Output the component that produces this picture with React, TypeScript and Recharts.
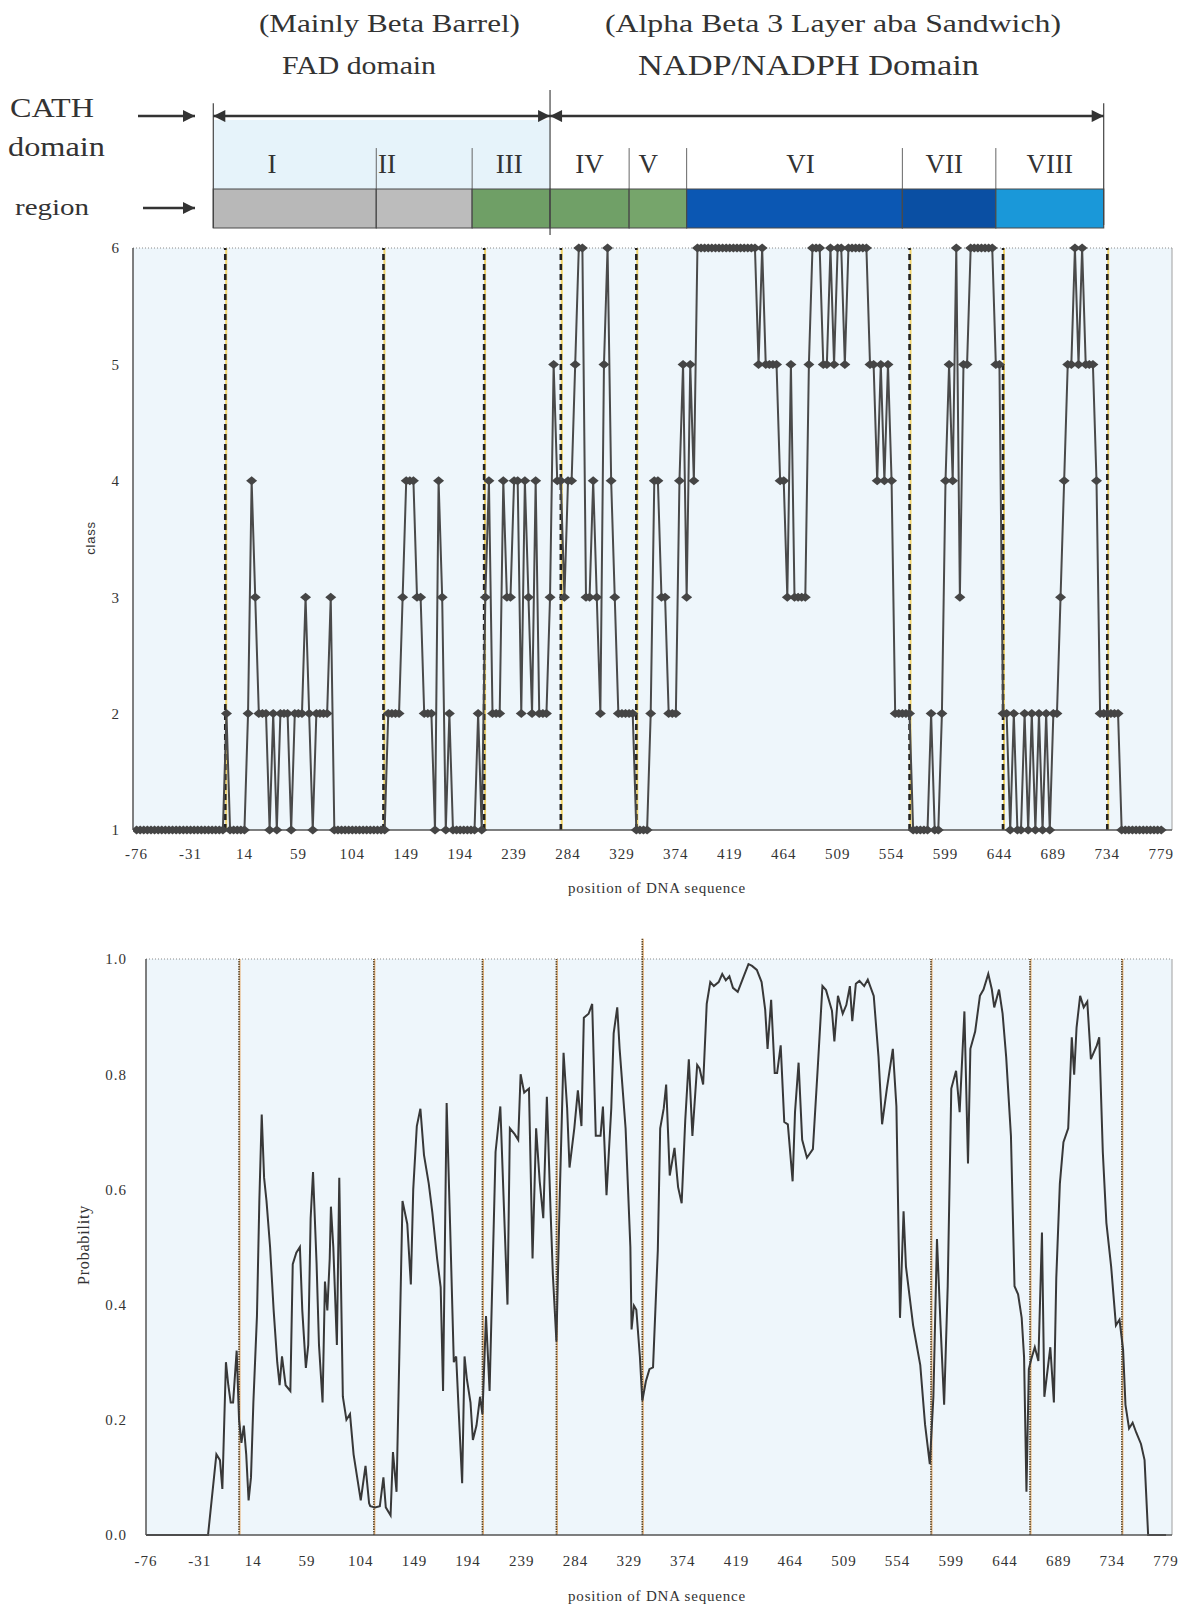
import React from 'react';
import { LineChart, Line, XAxis, YAxis, CartesianGrid, ReferenceLine, ReferenceArea, ComposedChart, Scatter } from 'recharts';

// position axis (nucleotide position, one point every codon)
const xTicks = [-76, -31, 14, 59, 104, 149, 194, 239, 284, 329, 374, 419, 464, 509, 554, 599, 644, 689, 734, 779];
const classTicks = [1, 2, 3, 4, 5, 6];
const probTicks = [0, 0.2, 0.4, 0.6, 0.8, 1.0];

// structural class per codon, starting at -76, step 3
const classValues = [
  1, 1, 1, 1, 1, 1, 1, 1, 1, 1, 1, 1, 1, 1, 1,
  1, 1, 1, 1, 1, 1, 1, 1, 1, 1, 2, 1, 1, 1, 1,
  1, 2, 4, 3, 2, 2, 2, 1, 2, 1, 2, 2, 2, 1, 2,
  2, 2, 3, 2, 1, 2, 2, 2, 2, 3, 1, 1, 1, 1, 1,
  1, 1, 1, 1, 1, 1, 1, 1, 1, 1, 2, 2, 2, 2, 3,
  4, 4, 4, 3, 3, 2, 2, 2, 1, 4, 3, 1, 2, 1, 1,
  1, 1, 1, 1, 1, 2, 1, 3, 4, 2, 2, 2, 4, 3, 3,
  4, 4, 2, 4, 3, 2, 4, 2, 2, 2, 3, 5, 4, 4, 3,
  4, 4, 5, 6, 6, 3, 3, 4, 3, 2, 5, 6, 4, 3, 2,
  2, 2, 2, 2, 1, 1, 1, 1, 2, 4, 4, 3, 3, 2, 2,
  2, 4, 5, 3, 5, 4, 6, 6, 6, 6, 6, 6, 6, 6, 6,
  6, 6, 6, 6, 6, 6, 6, 6, 5, 6, 5, 5, 5, 5, 4,
  4, 3, 5, 3, 3, 3, 3, 5, 6, 6, 6, 5, 5, 6, 5,
  6, 6, 5, 6, 6, 6, 6, 6, 6, 5, 5, 4, 5, 4, 5,
  4, 2, 2, 2, 2, 2, 1, 1, 1, 1, 1, 2, 1, 1, 2,
  4, 5, 4, 6, 3, 5, 5, 6, 6, 6, 6, 6, 6, 6, 5,
  5, 2, 2, 1, 2, 1, 1, 2, 1, 2, 1, 2, 1, 2, 1,
  2, 2, 3, 4, 5, 5, 6, 5, 6, 5, 5, 5, 4, 2, 2,
  2, 2, 2, 2, 1, 1, 1, 1, 1, 1, 1, 1, 1, 1, 1,
  1,
];

// [position, probability]
const probability: [number, number][] = [
  [-76, 0], [-24, 0], [-19, 0.1], [-17, 0.14], [-14, 0.13], [-12, 0.08], [-9, 0.3], [-7, 0.26], [-5, 0.23], [-3, 0.23],
  [0, 0.32], [2, 0.2], [4, 0.16], [6, 0.19], [8, 0.14], [10, 0.06], [12, 0.1], [14, 0.23], [17, 0.38], [19, 0.58],
  [21, 0.73], [23, 0.62], [25, 0.58], [28, 0.5], [31, 0.39], [34, 0.3], [36, 0.26], [38, 0.31], [41, 0.26], [45, 0.25],
  [47, 0.47], [50, 0.49], [53, 0.5], [55, 0.39], [58, 0.29], [60, 0.33], [62, 0.55], [64, 0.63], [67, 0.47], [69, 0.33],
  [72, 0.23], [74, 0.44], [76, 0.39], [78, 0.48], [79, 0.57], [81, 0.5], [84, 0.33], [86, 0.62], [89, 0.24], [92, 0.2],
  [95, 0.21], [98, 0.14], [101, 0.1], [104, 0.06], [106, 0.09], [108, 0.12], [111, 0.055], [112, 0.05], [116, 0.048], [120, 0.05],
  [123, 0.1], [125, 0.048], [129, 0.034], [131, 0.144], [134, 0.075], [139, 0.58], [143, 0.54], [146, 0.435], [148, 0.6], [151, 0.71],
  [154, 0.74], [157, 0.66], [161, 0.61], [164, 0.56], [168, 0.48], [171, 0.43], [173, 0.25], [176, 0.75], [179, 0.53], [182, 0.3],
  [184, 0.31], [186, 0.22], [189, 0.09], [191, 0.31], [193, 0.27], [196, 0.23], [198, 0.165], [201, 0.19], [204, 0.24], [206, 0.21],
  [209, 0.38], [212, 0.25], [217, 0.665], [221, 0.744], [224, 0.57], [227, 0.4], [229, 0.706], [233, 0.696], [236, 0.686], [238, 0.8],
  [241, 0.768], [245, 0.775], [248, 0.48], [251, 0.706], [254, 0.614], [257, 0.55], [260, 0.761], [263, 0.569], [265, 0.453], [268, 0.336],
  [271, 0.604], [274, 0.837], [277, 0.741], [279, 0.638], [283, 0.706], [286, 0.772], [289, 0.71], [291, 0.898], [295, 0.905], [298, 0.922],
  [301, 0.693], [305, 0.693], [307, 0.744], [310, 0.59], [314, 0.741], [316, 0.871], [319, 0.916], [321, 0.844], [326, 0.706], [330, 0.5],
  [331, 0.357], [333, 0.398], [335, 0.391], [338, 0.309], [340, 0.233], [343, 0.267], [346, 0.288], [349, 0.291], [353, 0.494], [355, 0.706],
  [358, 0.741], [360, 0.782], [363, 0.624], [367, 0.672], [370, 0.604], [373, 0.576], [376, 0.72], [379, 0.826], [382, 0.693], [386, 0.816],
  [388, 0.81], [391, 0.782], [394, 0.922], [397, 0.96], [400, 0.953], [404, 0.96], [407, 0.974], [410, 0.963], [413, 0.97], [416, 0.95],
  [420, 0.943], [425, 0.97], [429, 0.991], [432, 0.988], [436, 0.981], [440, 0.96], [443, 0.912], [445, 0.844], [448, 0.929], [451, 0.802],
  [453, 0.802], [456, 0.85], [459, 0.717], [462, 0.713], [466, 0.614], [468, 0.734], [471, 0.82], [474, 0.686], [478, 0.655], [483, 0.67],
  [487, 0.809], [491, 0.953], [494, 0.946], [499, 0.91], [501, 0.857], [504, 0.936], [508, 0.905], [511, 0.92], [514, 0.953], [516, 0.892],
  [519, 0.957], [522, 0.962], [526, 0.953], [529, 0.964], [534, 0.936], [538, 0.83], [541, 0.713], [545, 0.775], [550, 0.844], [553, 0.744],
  [556, 0.377], [559, 0.562], [561, 0.466], [567, 0.364], [573, 0.295], [577, 0.192], [581, 0.123], [584, 0.24], [587, 0.514], [590, 0.364],
  [593, 0.226], [596, 0.432], [599, 0.775], [603, 0.806], [606, 0.734], [610, 0.909], [613, 0.645], [615, 0.844], [619, 0.874], [623, 0.936],
  [626, 0.947], [630, 0.974], [633, 0.947], [635, 0.916], [639, 0.947], [642, 0.905], [645, 0.83], [649, 0.693], [652, 0.432], [655, 0.418],
  [658, 0.377], [660, 0.309], [662, 0.075], [664, 0.288], [666, 0.305], [669, 0.326], [672, 0.302], [675, 0.525], [677, 0.24], [682, 0.326],
  [685, 0.23], [687, 0.446], [690, 0.61], [693, 0.682], [697, 0.706], [700, 0.864], [702, 0.799], [704, 0.881], [707, 0.936], [710, 0.916],
  [713, 0.926], [716, 0.826], [721, 0.85], [723, 0.864], [726, 0.665], [729, 0.542], [733, 0.466], [737, 0.364], [740, 0.374], [743, 0.322],
  [745, 0.226], [748, 0.185], [751, 0.195], [754, 0.178], [758, 0.158], [761, 0.13], [764, 0], [779, 0],
];

// region boundaries (dashed lines) in each panel
const classBounds = [-2, 130, 214, 278, 341, 569, 647, 734];
const probBounds = [2, 115, 206, 268, 340, 582, 665, 742];
const tallProbBound = 340;

// CATH regions in the header strip
const regionNames = ['I', 'II', 'III', 'IV', 'V', 'VI', 'VII', 'VIII'];
const regionLabelPos = [37, 133, 235, 302, 351, 478, 598, 686];
const regionEdges = [-12, 124, 204, 269, 335, 383, 563, 641, 731];
const regionColors = ['#b8b8b8', '#bcbcbc', '#6f9f66', '#70a067', '#76a56b', '#0b57b3', '#0a4fa3', '#1a98d9'];
const domainSplit = 269;

const classData = classValues.map((v, i) => ({ pos: -76 + 3 * i, cls: v }));
const probData = probability.map(([pos, p]) => ({ pos, p }));
const regionLabelData = regionNames.map((name, i) => ({ pos: regionLabelPos[i], row: 1.64, name }));

const serif = '"Liberation Serif", "Times New Roman", serif';
const sans = '"Liberation Sans", Arial, sans-serif';
const tickStyle = { fontFamily: serif, fontSize: 15, fill: '#333', letterSpacing: 1 };

const renderDiamond = (props: any) => {
  const { cx, cy, index } = props;
  if (cx == null || cy == null) return <g key={`d-${index}`} />;
  return (
    <polygon
      key={`d-${index}`}
      points={`${cx},${cy - 4.5} ${cx + 5.5},${cy} ${cx},${cy + 4.5} ${cx - 5.5},${cy}`}
      fill="#454545"
    />
  );
};

const renderRegionLabel = (props: any) => {
  const { cx, cy, payload } = props;
  return (
    <text x={cx} y={cy} textAnchor="middle" dominantBaseline="central" fontFamily={serif} fontSize={27} fill="#333">
      {payload.name}
    </text>
  );
};

const Header = () => (
  <>
    <div style={{ position: 'absolute', left: 0, top: 0 }}>
      <ComposedChart width={1185} height={240} margin={{ top: 72, right: 13, bottom: 12, left: 133 }}>
        <XAxis dataKey="pos" type="number" domain={[-79, 788]} allowDataOverflow hide />
        <YAxis dataKey="row" type="number" domain={[0, 4]} allowDataOverflow hide />
        <ReferenceArea x1={regionEdges[0]} x2={domainSplit} y1={1} y2={2.77} fill="#e6f3fa" fillOpacity={1} stroke="none" />
        {regionNames.map((name, i) => (
          <ReferenceArea
            key={`box-${name}`}
            x1={regionEdges[i]}
            x2={regionEdges[i + 1]}
            y1={0}
            y2={1}
            fill={regionColors[i]}
            fillOpacity={1}
            stroke="#4a4a4a"
            strokeWidth={1.2}
            ifOverflow="visible"
          />
        ))}
        {regionEdges.slice(1, -1).filter((e) => e !== domainSplit).map((e) => (
          <ReferenceLine key={`sep-${e}`} segment={[{ x: e, y: 1 }, { x: e, y: 2.05 }]} stroke="#666" strokeWidth={1} ifOverflow="visible" />
        ))}
        <ReferenceLine segment={[{ x: regionEdges[0], y: 0 }, { x: regionEdges[0], y: 3.2 }]} stroke="#444" strokeWidth={1.2} ifOverflow="visible" />
        <ReferenceLine segment={[{ x: domainSplit, y: -0.18 }, { x: domainSplit, y: 3.54 }]} stroke="#444" strokeWidth={1.2} ifOverflow="visible" />
        <ReferenceLine segment={[{ x: regionEdges[8], y: 0.08 }, { x: regionEdges[8], y: 3.2 }]} stroke="#444" strokeWidth={1.2} ifOverflow="visible" />
        <ReferenceLine
          segment={[{ x: regionEdges[0], y: 2.87 }, { x: domainSplit, y: 2.87 }]}
          stroke="#333"
          strokeWidth={2.5}
          ifOverflow="visible"
          markerStart="url(#arrowHead)"
          markerEnd="url(#arrowHead)"
        />
        <ReferenceLine
          segment={[{ x: domainSplit, y: 2.87 }, { x: regionEdges[8], y: 2.87 }]}
          stroke="#333"
          strokeWidth={2.5}
          ifOverflow="visible"
          markerStart="url(#arrowHead)"
          markerEnd="url(#arrowHead)"
        />
        <Scatter data={regionLabelData} dataKey="row" shape={renderRegionLabel} isAnimationActive={false} />
      </ComposedChart>
    </div>
    <svg width={1185} height={240} style={{ position: 'absolute', left: 0, top: 0, pointerEvents: 'none' }}>
      <defs>
        <marker id="arrowHead" viewBox="0 0 10 10" refX="10" refY="5" markerWidth="16" markerHeight="12" orient="auto-start-reverse" markerUnits="userSpaceOnUse">
          <path d="M0,0 L10,5 L0,10 z" fill="#333" />
        </marker>
      </defs>
      <g fontFamily={serif} fill="#333">
        <text x={259} y={32} fontSize={25} textLength={261} lengthAdjust="spacingAndGlyphs">(Mainly Beta Barrel)</text>
        <text x={282} y={74} fontSize={25} textLength={154} lengthAdjust="spacingAndGlyphs">FAD domain</text>
        <text x={605} y={32} fontSize={25} textLength={456} lengthAdjust="spacingAndGlyphs">(Alpha Beta 3 Layer aba Sandwich)</text>
        <text x={638} y={75} fontSize={30} textLength={341} lengthAdjust="spacingAndGlyphs">NADP/NADPH Domain</text>
        <text x={10} y={117} fontSize={27} textLength={84} lengthAdjust="spacingAndGlyphs">CATH</text>
        <text x={8} y={156} fontSize={27} textLength={97} lengthAdjust="spacingAndGlyphs">domain</text>
        <text x={15} y={215} fontSize={24} textLength={74} lengthAdjust="spacingAndGlyphs">region</text>
      </g>
      <line x1={138} y1={116} x2={195} y2={116} stroke="#333" strokeWidth={2.5} markerEnd="url(#arrowHead)" />
      <line x1={143} y1={208} x2={195} y2={208} stroke="#333" strokeWidth={2.5} markerEnd="url(#arrowHead)" />
    </svg>
  </>
);

const ClassChart = () => (
  <div style={{ position: 'absolute', left: 0, top: 0 }}>
    <LineChart width={1185} height={900} data={classData} margin={{ top: 248, right: 13, bottom: 40, left: 93 }}>
      <CartesianGrid horizontal={false} vertical={false} fill="#eef6fb" fillOpacity={1} />
      <XAxis
        dataKey="pos"
        type="number"
        domain={[-79, 788]}
        ticks={xTicks}
        interval={0}
        allowDataOverflow
        tickLine={false}
        tickSize={0}
        tickMargin={18}
        height={30}
        axisLine={{ stroke: '#555', strokeWidth: 1.5 }}
        tick={tickStyle}
      />
      <YAxis
        type="number"
        domain={[1, 6]}
        ticks={classTicks}
        width={40}
        tickLine={false}
        tickSize={0}
        tickMargin={13}
        axisLine={{ stroke: '#555', strokeWidth: 1.5 }}
        tick={tickStyle}
      />
      <ReferenceLine y={6} stroke="#8a8a8a" strokeDasharray="1 2" />
      <ReferenceLine x={788} stroke="#a0a0a0" />
      {classBounds.map((b) => (
        <ReferenceLine key={`cy-${b}`} x={b + 0.8} stroke="#f0d36a" strokeWidth={2} />
      ))}
      {classBounds.map((b) => (
        <ReferenceLine key={`cb-${b}`} x={b} stroke="#222" strokeWidth={2.6} strokeDasharray="6 4" />
      ))}
      <Line
        type="linear"
        dataKey="cls"
        stroke="#4a4a4a"
        strokeWidth={2}
        dot={renderDiamond}
        activeDot={false}
        isAnimationActive={false}
      />
    </LineChart>
  </div>
);

const ProbChart = () => (
  <div style={{ position: 'absolute', left: 0, top: 900 }}>
    <LineChart width={1185} height={707} data={probData} margin={{ top: 59, right: 13, bottom: 42, left: 96 }}>
      <CartesianGrid horizontal={false} vertical={false} fill="#eef6fb" fillOpacity={1} />
      <XAxis
        dataKey="pos"
        type="number"
        domain={[-76, 784]}
        ticks={xTicks}
        interval={0}
        allowDataOverflow
        tickLine={false}
        tickSize={0}
        tickMargin={20}
        height={30}
        axisLine={{ stroke: '#555', strokeWidth: 1.5 }}
        tick={tickStyle}
      />
      <YAxis
        type="number"
        domain={[0, 1]}
        ticks={probTicks}
        width={50}
        tickLine={false}
        tickSize={0}
        tickMargin={19}
        tickFormatter={(v: number) => v.toFixed(1)}
        axisLine={{ stroke: '#555', strokeWidth: 1.5 }}
        tick={tickStyle}
      />
      <ReferenceLine y={1} stroke="#8a8a8a" strokeDasharray="1 2" />
      <ReferenceLine x={784} stroke="#a0a0a0" />
      {probBounds.map((b) => (
        <ReferenceLine
          key={`py-${b}`}
          segment={[{ x: b + 0.7, y: 0 }, { x: b + 0.7, y: b === tallProbBound ? 1.035 : 1 }]}
          stroke="#eab275"
          strokeWidth={1.3}
          ifOverflow="visible"
        />
      ))}
      {probBounds.map((b) => (
        <ReferenceLine
          key={`pb-${b}`}
          segment={[{ x: b, y: 0 }, { x: b, y: b === tallProbBound ? 1.035 : 1 }]}
          stroke="#5a4628"
          strokeWidth={1.6}
          strokeDasharray="1.5 1"
          ifOverflow="visible"
        />
      ))}
      <Line type="linear" dataKey="p" stroke="#383838" strokeWidth={2} dot={false} activeDot={false} isAnimationActive={false} />
    </LineChart>
  </div>
);

const AxisTitle = ({ text, x, y, rotate, font, size }: { text: string; x: number; y: number; rotate?: boolean; font: string; size: number }) => (
  <div
    style={{
      position: 'absolute',
      left: x,
      top: y,
      transform: `translate(-50%, -50%)${rotate ? ' rotate(-90deg)' : ''}`,
      fontFamily: font,
      fontSize: size,
      color: '#333',
      whiteSpace: 'nowrap',
      letterSpacing: 0.8,
    }}
  >
    {text}
  </div>
);

export default function App() {
  return (
    <div style={{ position: 'absolute', left: 0, top: 0, width: 1185, height: 1607, background: '#fff', overflow: 'hidden' }}>
      <ClassChart />
      <ProbChart />
      <Header />
      <AxisTitle text="class" x={90} y={538} rotate font={sans} size={13} />
      <AxisTitle text="position of DNA sequence" x={657} y={888} font={serif} size={15} />
      <AxisTitle text="Probability" x={84} y={1245} rotate font={serif} size={16} />
      <AxisTitle text="position of DNA sequence" x={657} y={1596} font={serif} size={15} />
    </div>
  );
}
